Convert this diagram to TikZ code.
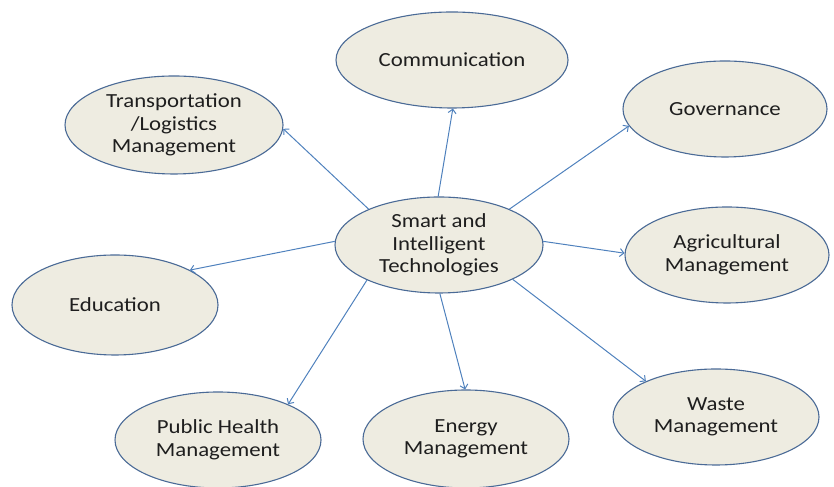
\documentclass[tikz,border=0pt]{standalone}
\usepackage{fontspec}
\setmainfont{Carlito}[FakeStretch=1.14]
\usetikzlibrary{arrows.meta,shapes.geometric}
\definecolor{fillcol}{HTML}{EEECE1}
\definecolor{strokecol}{HTML}{4A6A96}
\definecolor{edgecol}{HTML}{4F81BD}
\definecolor{textcol}{HTML}{1E1E1E}
\tikzset{
  topic/.style={ellipse, draw=strokecol, fill=fillcol, line width=1.1bp,
    inner sep=0pt, text=textcol, align=center,
    font=\fontsize{20bp}{22.5bp}\selectfont},
  link/.style={edgecol, line width=1bp, -{Straight Barb[length=4bp,width=8bp]}},
}
\begin{document}
\begin{tikzpicture}[x=1bp,y=1bp]
  \useasboundingbox (0,0) rectangle (834,487);
%%
  % Node: Smart
  \node [topic, minimum width=208bp, minimum height=96bp] (smart) at (439,242) {Smart and\\Intelligent\\Technologies};
  % Node: Communication
  \node [topic, minimum width=232bp, minimum height=96bp] (comm) at (452,427) {Communication};
  % Node: Transportation
  \node [topic, minimum width=218bp, minimum height=98bp] (trans) at (174,362) {Transportation\\/Logistics\\Management};
  % Node: Governance
  \node [topic, minimum width=204bp, minimum height=96bp] (gov) at (725,378) {Governance};
  % Node: Agricultural
  \node [topic, minimum width=204bp, minimum height=96bp] (agri) at (727,232) {Agricultural\\Management};
  % Node: Education
  \node [topic, minimum width=206bp, minimum height=100bp] (edu) at (115,182) {Education};
  % Node: PublicHealth
  \node [topic, minimum width=206bp, minimum height=96bp] (health) at (218,47) {Public Health\\Management};
  % Node: Energy
  \node [topic, minimum width=206bp, minimum height=98bp] (energy) at (466,48) {Energy\\Management};
  % Node: Waste
  \node [topic, minimum width=206bp, minimum height=96bp] (waste) at (716,70) {Waste\\Management};
%%
  % Edge: Smart -> Communication
  \draw [link] (smart.91) -- (comm.-89);
  % Edge: Smart -> Governance
  \draw [link] (smart.27) -- (gov.-170);
  % Edge: Smart -> Transportation
  \draw [link] (smart.153) -- (trans.-2);
  % Edge: Smart -> Agricultural
  \draw [link] (smart.2) -- (agri.179);
  % Edge: Smart -> Education
  \draw [link] (smart.178) -- (edu.25);
  % Edge: Smart -> PublicHealth
  \draw [link] (smart.-154) -- (health.27);
  % Edge: Smart -> Energy
  \draw [link] (smart.-89) -- (energy.91);
  % Edge: Smart -> Waste
  \draw [link] (smart.-25) -- (waste.153);
%
\end{tikzpicture}
\end{document}
